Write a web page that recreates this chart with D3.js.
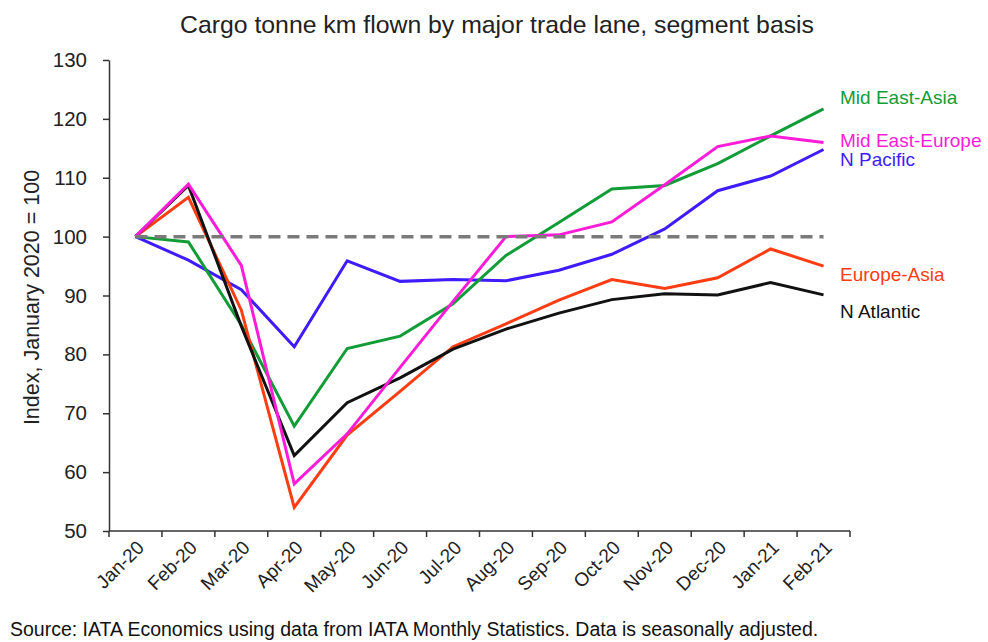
<!DOCTYPE html>
<html>
<head>
<meta charset="utf-8">
<script src="https://cdn.jsdelivr.net/npm/d3@7/dist/d3.min.js"></script>
<style>
  html, body { margin: 0; padding: 0; background: #fff; }
  svg { display: block; font-family: "Liberation Sans", Arial, sans-serif; }
</style>
</head>
<body>
<svg id="chart" width="988" height="642"></svg>
<script>
// ---- data ----
const months = ["Jan-20","Feb-20","Mar-20","Apr-20","May-20","Jun-20","Jul-20","Aug-20","Sep-20","Oct-20","Nov-20","Dec-20","Jan-21","Feb-21"];
const nPacific     = [100, 96.0, 91.0, 81.3, 95.9, 92.4, 92.7, 92.5, 94.3, 97.0, 101.3, 107.8, 110.3, 114.8];
const midEastAsia  = [100, 99.1, 85.0, 67.8, 81.0, 83.1, 88.6, 96.8, 102.4, 108.1, 108.7, 112.4, 117.1, 121.7];
const europeAsia   = [100, 106.7, 87.5, 54.0, 66.3, 73.7, 81.3, 85.2, 89.2, 92.7, 91.2, 93.0, 97.9, 95.0];
const nAtlantic    = [100, 108.7, 84.8, 62.8, 71.8, 76.0, 80.9, 84.3, 87.0, 89.3, 90.3, 90.1, 92.2, 90.1];
const midEastEurope= [100, 108.9, 95.1, 58.0, 66.5, 77.8, 89.0, 100.0, 100.3, 102.5, 108.8, 115.3, 117.1, 116.0];
const seriesNames  = ["N Pacific","Mid East-Asia","Europe-Asia","N Atlantic","Mid East-Europe"];
const yTicks = [50, 60, 70, 80, 90, 100, 110, 120, 130];
const baseline = 100;
const titleText = "Cargo tonne km flown by major trade lane, segment basis";
const yAxisTitle = "Index, January 2020 = 100";
const sourceText = "Source: IATA Economics using data from IATA Monthly Statistics. Data is seasonally adjusted.";

const series = [
  {name: seriesNames[0], values: nPacific,      color: "#3f1cff", labelY: 159},
  {name: seriesNames[1], values: midEastAsia,   color: "#119c37", labelY: 97},
  {name: seriesNames[2], values: europeAsia,    color: "#ff3c12", labelY: 274},
  {name: seriesNames[3], values: nAtlantic,     color: "#111111", labelY: 311},
  {name: seriesNames[4], values: midEastEurope, color: "#ff1cd8", labelY: 140}
];

// ---- layout ----
const svg = d3.select("#chart");
const plot = {left: 109, right: 850, top: 60, bottom: 531};

const x = d3.scaleBand().domain(months).range([plot.left, plot.right]).padding(0);
const xc = m => x(m) + x.bandwidth() / 2;
const y = d3.scaleLinear().domain([50, 130]).range([plot.bottom, plot.top]);

const axisColor = "#333";

// title
svg.append("text")
  .attr("x", 497).attr("y", 33)
  .attr("text-anchor", "middle")
  .attr("font-size", 24.8)
  .attr("fill", "#222")
  .text(titleText);

// y axis
const yAxis = d3.axisLeft(y).tickValues(yTicks).tickSize(6).tickPadding(16).tickSizeOuter(0);
const gy = svg.append("g").attr("transform", `translate(${plot.left},0)`).call(yAxis);
gy.select(".domain").attr("stroke", axisColor).attr("stroke-width", 1.5);
gy.selectAll(".tick line").attr("stroke", axisColor).attr("stroke-width", 1.5);
gy.selectAll(".tick text").attr("font-size", 20.5).attr("fill", "#222")
  .attr("font-family", "Liberation Sans, Arial, sans-serif");

// y axis title
svg.append("text")
  .attr("transform", `translate(39,${(plot.top + plot.bottom) / 2 + 2}) rotate(-90)`)
  .attr("text-anchor", "middle")
  .attr("font-size", 21.5)
  .attr("fill", "#222")
  .text(yAxisTitle);

// x axis line
const gx = svg.append("g");
gx.append("line")
  .attr("x1", plot.left).attr("x2", plot.right)
  .attr("y1", y(50)).attr("y2", y(50))
  .attr("stroke", axisColor).attr("stroke-width", 1.5);
const boundaries = months.map(m => x(m)).concat([x(months[months.length - 1]) + x.bandwidth()]);
gx.selectAll("line.tk").data(boundaries).enter().append("line")
  .attr("class", "tk")
  .attr("x1", d => d).attr("x2", d => d)
  .attr("y1", y(50)).attr("y2", y(50) + 6)
  .attr("stroke", axisColor).attr("stroke-width", 1.5);
gx.selectAll("text").data(months).enter().append("text")
  .attr("transform", d => `translate(${xc(d) + 5},${y(50) + 13}) rotate(-45)`)
  .attr("text-anchor", "end")
  .attr("dy", "0.35em")
  .attr("font-size", 19)
  .attr("fill", "#222")
  .text(d => d);

// lines
const line = d3.line().x((d, i) => xc(months[i])).y(d => y(d));
svg.append("g").selectAll("path").data(series).enter().append("path")
  .attr("d", d => line(d.values))
  .attr("fill", "none")
  .attr("stroke", d => d.color)
  .attr("stroke-width", 3)
  .attr("stroke-linejoin", "miter");

// baseline dashed
svg.append("line")
  .attr("x1", xc(months[0])).attr("x2", xc(months[months.length - 1]))
  .attr("y1", y(baseline)).attr("y2", y(baseline))
  .attr("stroke", "#7a7a7a").attr("stroke-width", 3.5)
  .attr("stroke-dasharray", "12,7");

// series labels
svg.append("g").selectAll("text").data(series).enter().append("text")
  .attr("x", 840).attr("y", d => d.labelY)
  .attr("dy", "0.35em")
  .attr("font-size", 19)
  .attr("fill", d => d.color)
  .text(d => d.name);

// source
svg.append("text")
  .attr("x", 10).attr("y", 636)
  .attr("font-size", 19.5)
  .attr("fill", "#111")
  .text(sourceText);
</script>
</body>
</html>
